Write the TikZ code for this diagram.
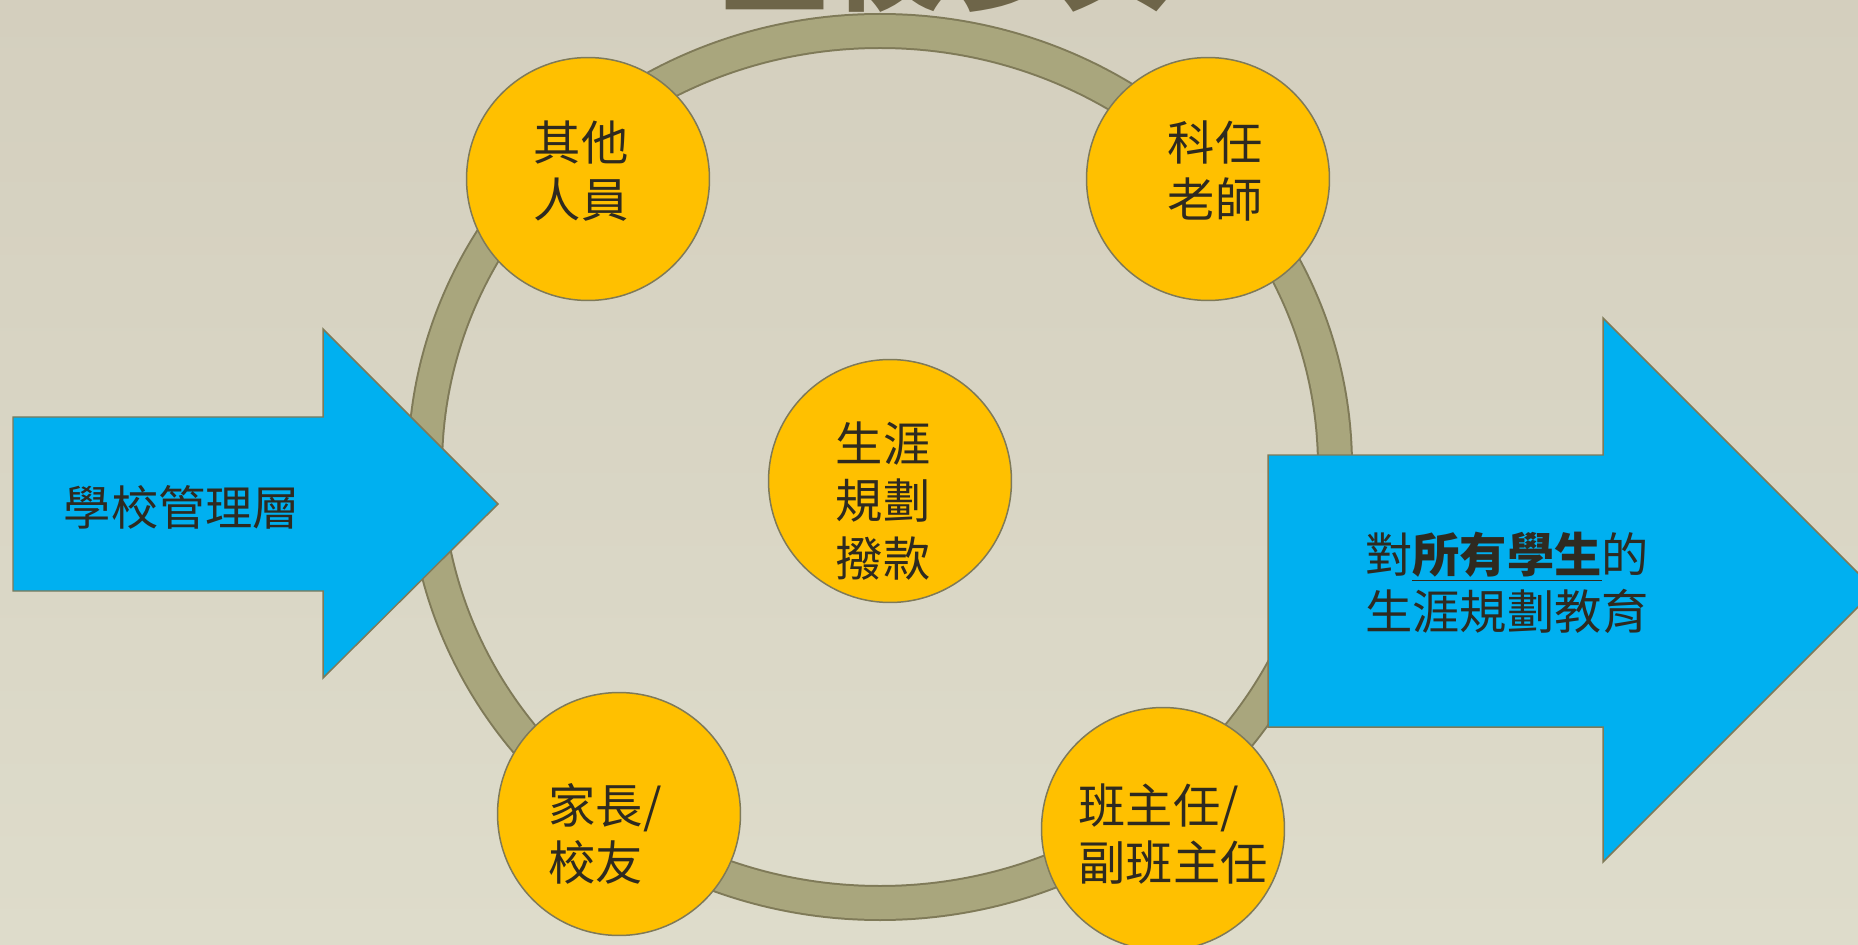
\documentclass[tikz,border=0pt]{standalone}
\usepackage{fontspec}
\newfontfamily\cjk{Noto Sans CJK TC}
\definecolor{bgtop}{HTML}{D4CFBE}
\definecolor{bgbot}{HTML}{DEDCCB}
\definecolor{ringc}{HTML}{A9A67D}
\definecolor{edgec}{HTML}{7F7A58}
\definecolor{yellowc}{HTML}{FFC000}
\definecolor{bluec}{HTML}{00B0F0}
\definecolor{inkc}{HTML}{2E2A20}
\definecolor{titlec}{HTML}{6E6549}
\tikzset{
  disc/.style={circle,fill=yellowc,draw=edgec,line width=0.85pt,minimum size=4.86cm,inner sep=0pt},
  words/.style={text=inkc,align=left,inner sep=0pt,font=\cjk\fontsize{26.9}{32.6}\selectfont},
  bigarrow/.style={fill=bluec,draw=edgec,line width=0.85pt,line join=miter}
}
\begin{document}
\begin{tikzpicture}[x=0.02cm,y=-0.02cm]
\fill[top color=bgtop,bottom color=bgbot] (0,0) rectangle (1858,945);
\useasboundingbox (0,0) rectangle (1858,945);

\node[anchor=base,text=titlec,inner sep=0pt,font=\cjk\bfseries\fontsize{65}{70}\selectfont] (title) at (946,2) {全校參與};

\coordinate (O) at (880,467);
\draw[draw=edgec,line width=0.72cm] (O) ellipse [x radius=455, y radius=436];
\draw[draw=ringc,line width=0.64cm] (O) ellipse [x radius=455, y radius=436];

\node[disc] (staff) at (588,179) {};
\node[disc] (subj) at (1208,179) {};
\node[disc] (fund) at (890,481) {};
\node[disc] (parent) at (619,814) {};
\node[disc] (form) at (1163,829) {};

\node[words] (staffT) at ([shift={(-7,-8)}]staff.center) {其他\\人員};
\node[words] (subjT) at ([shift={(7,-8)}]subj.center) {科任\\老師};
\node[words] (fundT) at ([shift={(-7,20)}]fund.center) {生涯\\規劃\\撥款};
\node[words] (parentT) at ([shift={(-14,20)}]parent.center) {家長/\\校友};
\node[words] (formT) at ([shift={(10,5)}]form.center) {班主任/\\副班主任};

\draw[bigarrow] (13,417) -- (323,417) -- (323,329) -- (498,504) -- (323,678) -- (323,591) -- (13,591) -- cycle;
\draw[bigarrow] (1268,455) -- (1603,455) -- (1603,318) -- (1875,590) -- (1603,862) -- (1603,727) -- (1268,727) -- cycle;

\node[words] (mgmt) at (182,507) {學校管理層};
\node[words] (goal) at (1507,583) {對\underline{\bfseries 所有學生}的\\生涯規劃教育};
\end{tikzpicture}
\end{document}
